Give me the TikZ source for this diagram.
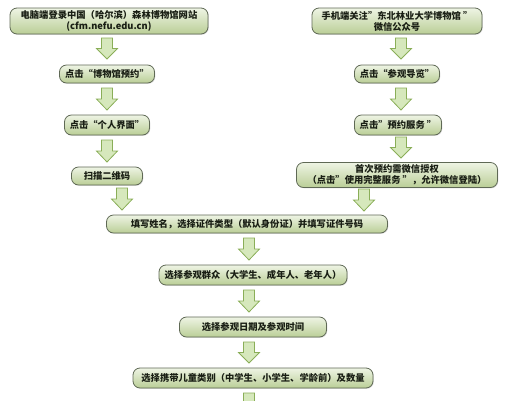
\documentclass[tikz,border=0pt]{standalone}
\usepackage{fontspec}
\setmainfont{Noto Sans CJK SC}
\usetikzlibrary{shadows}
\definecolor{boxtop}{RGB}{238,244,228}
\definecolor{boxbot}{RGB}{186,206,150}
\definecolor{boxline}{RGB}{95,105,85}
\definecolor{arrfill}{RGB}{214,232,188}
\definecolor{arrline}{RGB}{138,174,88}
\definecolor{txt}{RGB}{25,30,20}
\tikzset{
  stepbox/.style={draw=boxline, line width=0.8pt, rounded corners=7pt,
    top color=boxtop, bottom color=boxbot,
    drop shadow={shadow xshift=0.8pt, shadow yshift=-0.8pt, opacity=0.25},
    font=\fontsize{9.3}{11}\selectfont\bfseries, text=txt, align=center,
    inner sep=0pt},
  barrow/.style={draw=arrline, fill=arrfill, line width=0.8pt, line join=miter}
}
\newcommand\blockarrow[3]{%
  \draw[barrow] ({#1-5.5},#2) -- ({#1+5.5},#2) -- ({#1+5.5},{(#2+#3)/2}) --
    ({#1+10.5},{(#2+#3)/2}) -- (#1,#3) -- ({#1-10.5},{(#2+#3)/2}) --
    ({#1-5.5},{(#2+#3)/2}) -- cycle;}
\begin{document}
\begin{tikzpicture}[x=1pt,y=-1pt]
\useasboundingbox (0,0) rectangle (507,400);
\clip (0,0) rectangle (507,400);
% left column
\node[stepbox, minimum width=198pt, minimum height=26pt] (L1) at (109,21)
  {电脑端登录中国（哈尔滨）森林博物馆网站\\(cfm.nefu.edu.cn)};
\node[stepbox, minimum width=95pt, minimum height=18pt] (L2) at (107,74) {点击“博物馆预约”};
\node[stepbox, minimum width=85pt, minimum height=20pt] (L3) at (107,125) {点击“个人界面”};
\node[stepbox, minimum width=71pt, minimum height=18pt] (L4) at (107,176) {扫描二维码};
% right column
\node[stepbox, minimum width=170pt, minimum height=26pt] (R1) at (397,21)
  {手机端关注”东北林业大学博物馆 ”\\微信公众号};
\node[stepbox, minimum width=85pt, minimum height=18pt] (R2) at (397,74) {点击“参观导览”};
\node[stepbox, minimum width=87pt, minimum height=20pt] (R3) at (398,125) {点击”预约服务 ”};
\node[stepbox, minimum width=201pt, minimum height=25pt] (R4) at (397,175)
  {首次预约需微信授权\\（点击”使用完整服务 ”，允许微信登陆）};
% middle column
\node[stepbox, minimum width=281pt, minimum height=18pt] (M5) at (247,224)
  {填写姓名，选择证件类型（默认身份证）并填写证件号码};
\node[stepbox, minimum width=188pt, minimum height=20pt] (M6) at (253,275)
  {选择参观群众（大学生、成年人、老年人）};
\node[stepbox, minimum width=147pt, minimum height=20pt] (M7) at (253,327)
  {选择参观日期及参观时间};
\node[stepbox, minimum width=240pt, minimum height=20pt] (M8) at (253,378)
  {选择携带儿童类别（中学生、小学生、学龄前）及数量};
% block arrows
\blockarrow{107}{38}{59}
\blockarrow{107}{88}{110}
\blockarrow{107}{140}{162}
\blockarrow{122}{188}{210}
\blockarrow{401}{38}{59}
\blockarrow{401}{88}{110}
\blockarrow{401}{137}{158}
\blockarrow{364}{189}{211}
\blockarrow{249}{238}{260}
\blockarrow{249}{290}{312}
\blockarrow{249}{342}{363}
\blockarrow{249}{393}{415}
\end{tikzpicture}
\end{document}
